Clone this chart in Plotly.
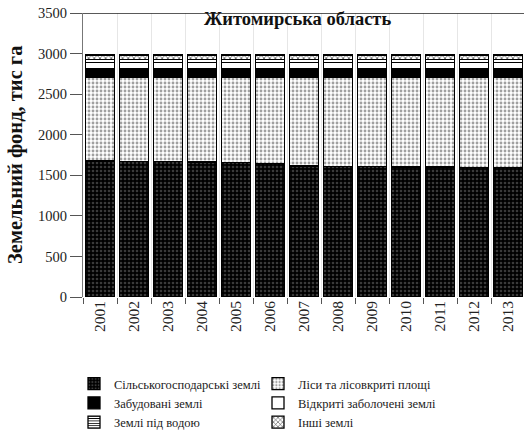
import plotly.graph_objects as go

years = [str(y) for y in range(2001, 2014)]
agri = [1675, 1673, 1668, 1662, 1655, 1642, 1615, 1610, 1606, 1604, 1602, 1600, 1598]
forest = [1035, 1037, 1042, 1048, 1055, 1068, 1095, 1100, 1104, 1106, 1108, 1110, 1112]
built = [105, 105, 105, 105, 106, 106, 106, 106, 107, 107, 107, 107, 107]
wetland = [75, 75, 75, 75, 74, 74, 74, 74, 74, 74, 74, 74, 74]
water = [38, 38, 38, 38, 38, 38, 38, 38, 38, 38, 38, 38, 38]
other = [55, 55, 55, 55, 55, 55, 55, 55, 54, 54, 54, 54, 54]

names = ["Сільськогосподарські землі", "Ліси та лісовкриті площі", "Забудовані землі",
         "Відкриті заболочені землі", "Землі під водою", "Інші землі"]

SERIF = "Liberation Serif"
W, H = 524, 441
L, R, T, B = 83, 0, 13, 144
pw = W - L - R
ph = H - T - B

styles = [
    dict(color="#000000", pattern=dict(shape=".", fgcolor="#3a3a3a", bgcolor="#000000", size=4, solidity=0.35, fillmode="replace"), legend="legend"),
    dict(color="#ffffff", pattern=dict(shape=".", fgcolor="#a0a0a0", bgcolor="#ffffff", size=4, solidity=0.4, fillmode="replace"), legend="legend2"),
    dict(color="#000000", pattern=None, legend="legend"),
    dict(color="#ffffff", pattern=None, legend="legend2"),
    dict(color="#b0b0b0", pattern=dict(shape="-", fgcolor="#000000", bgcolor="#ffffff", size=3, solidity=0.35, fillmode="replace"), legend="legend"),
    dict(color="#ffffff", pattern=dict(shape="x", fgcolor="#333333", bgcolor="#ffffff", size=4, solidity=0.3, fillmode="replace"), legend="legend2"),
]

fig = go.Figure()
for name, vals, st in zip(names, [agri, forest, built, wetland, water, other], styles):
    marker = dict(color=st["color"], line=dict(color="#000000", width=1.3))
    if st["pattern"]:
        marker["pattern"] = st["pattern"]
    fig.add_trace(go.Bar(x=years, y=vals, name=name, marker=marker, width=0.84,
                         legend=st["legend"]))

leg_font = dict(family=SERIF, size=12.5, color="#222")
fig.update_layout(
    width=W, height=H, barmode="stack",
    margin=dict(l=L, r=R, t=T, b=B),
    paper_bgcolor="white", plot_bgcolor="white",
    font=dict(family=SERIF, color="#222", size=12),
    showlegend=True,
    legend=dict(x=(74 - L) / pw, y=(297 - 369) / ph, xanchor="left", yanchor="top",
                font=leg_font, tracegroupgap=0,
                traceorder="normal", itemwidth=30, bgcolor="rgba(0,0,0,0)"),
    legend2=dict(x=(258 - L) / pw, y=(297 - 369) / ph, xanchor="left", yanchor="top",
                 font=leg_font, tracegroupgap=0,
                 traceorder="normal", itemwidth=30, bgcolor="rgba(0,0,0,0)"),
    xaxis=dict(range=[-0.5, -0.5 + pw / 34.0], tickangle=-90, ticks="outside", tickson="boundaries",
               ticklen=6, tickcolor="#555", showline=False, showgrid=True, gridcolor="#e6e6e6",
               tickfont=dict(family=SERIF, size=15.5, color="#222")),
    yaxis=dict(range=[0, 3500], dtick=500, ticks="outside", ticklen=12, tickcolor="#555",
               showline=True, linecolor="#777", linewidth=1, showgrid=False, zeroline=False,
               tickfont=dict(family=SERIF, size=14.5, color="#222")),
    shapes=[dict(type="line", xref="paper", yref="y", x0=0, x1=1, y0=3500, y1=3500,
                 line=dict(color="#222", width=1.5))],
    annotations=[
        dict(text="<b>Житомирська область</b>", xref="paper", yref="paper",
             x=(297 - L) / pw, y=(297 - 19) / ph, xanchor="center", yanchor="middle",
             showarrow=False, font=dict(family=SERIF, size=18.5, color="#111")),
        dict(text="<b>Земельний фонд, тис га</b>", xref="paper", yref="paper",
             x=(15 - L) / pw, y=(297 - 155) / ph, xanchor="center", yanchor="middle",
             textangle=-90, showarrow=False, font=dict(family=SERIF, size=20.5, color="#111")),
    ],
)

fig.write_html("out.html")
